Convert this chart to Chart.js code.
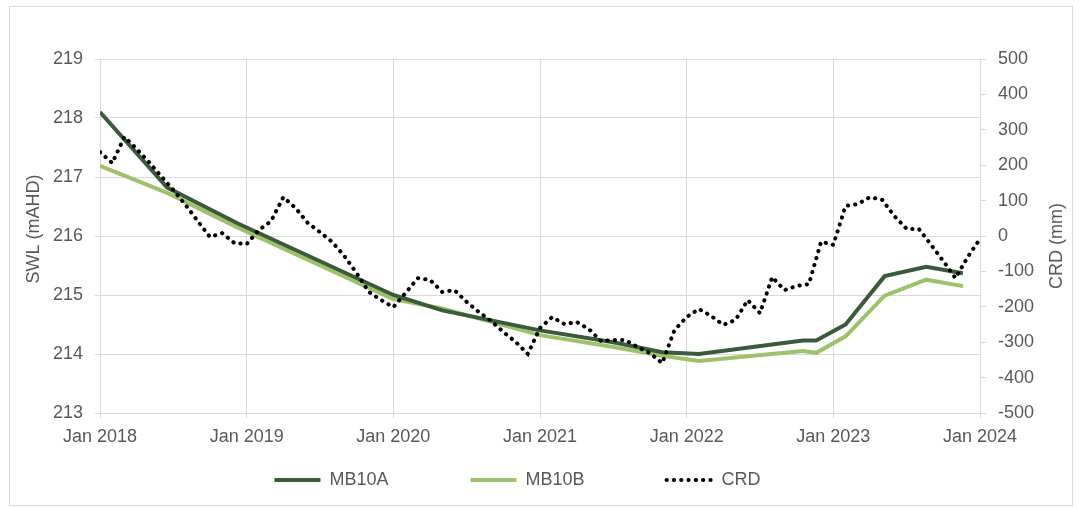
<!DOCTYPE html>
<html>
<head>
<meta charset="utf-8">
<title>MB10A / MB10B SWL and CRD</title>
<script src="https://cdn.jsdelivr.net/npm/chart.js@4.4.0/dist/chart.umd.min.js"></script>
<style>
    body { margin: 0; background: #ffffff; }
    #wrap { position: relative; width: 1080px; height: 508px; }
    #frame { position: absolute; left: 9px; top: 6px; width: 1062px; height: 498px;
             border: 1px solid #d9d9d9; pointer-events: none; }
</style>
</head>
<body>
<div id="wrap">
    <canvas id="chartSwl"></canvas>
    <div id="frame"></div>
</div>
<script>
// x values are months counted from Jan 2018
var mb10aMonths = [0, 5.5, 11.2, 24, 28, 36, 42, 46, 49, 57.5, 58.6, 61, 64.2, 67.6, 70.6];
var mb10aSwl = [218.1, 216.82, 216.22, 215.0, 214.74, 214.4, 214.2, 214.03, 214.0, 214.23, 214.23, 214.5, 215.32, 215.48, 215.37];

var mb10bMonths = [0, 5.5, 11.2, 24, 28, 36, 42, 46, 49, 57.5, 58.6, 61, 64.2, 67.6, 70.6];
var mb10bSwl = [217.19, 216.73, 216.15, 214.93, 214.77, 214.32, 214.12, 213.97, 213.88, 214.05, 214.02, 214.3, 214.99, 215.26, 215.15];

// cumulative rainfall deviation, one value per month, Jan 2018 .. Jan 2024
var crdValues = [
    237, 206, 280, 246, 209, 169, 130, 88, 42, -3, 8, -20,
    -23, 17, 42, 110, 79, 37, 11, -17, -57, -105, -158, -181,
    -201, -161, -119, -124, -158, -153, -186, -215, -240, -271, -299, -333,
    -260, -229, -249, -243, -263, -297, -294, -294, -314, -331, -359, -266,
    -229, -206, -226, -251, -237, -181, -218, -116, -153, -141, -136, -16,
    -25, 85, 90, 110, 102, 56, 20, 20, -25, -71, -119, -59,
    -8
];

var xTickLabels = ["Jan 2018", "Jan 2019", "Jan 2020", "Jan 2021", "Jan 2022", "Jan 2023", "Jan 2024"];
var seriesNames = ["MB10A", "MB10B", "CRD"];
var leftTitle = "SWL (mAHD)";
var rightTitle = "CRD (mm)";

var textColor = "#595959";
var gridColor = "#d9d9d9";
var fontFamily = '"Liberation Sans", Arial, sans-serif';

Chart.defaults.font.family = fontFamily;
Chart.defaults.font.size = 18;
Chart.defaults.color = textColor;

function toPoints(xs, ys) {
    var pts = [];
    for (var i = 0; i < xs.length; i++) {
        pts.push({ x: xs[i], y: ys[i] });
    }
    return pts;
}

// trailing spaces keep the legend items evenly spread like the original
var legendPad = ["\u2003\u2003\u2003\u2003", "\u2003\u2003\u2003\u2003", "\u2003\u2003\u2002"];

// axis titles drawn by hand so the right one reads bottom to top
var axisTitles = {
    id: "axisTitles",
    afterDraw: function (chart) {
        var ctx = chart.ctx;
        ctx.save();
        ctx.font = "18px " + fontFamily;
        ctx.fillStyle = textColor;
        ctx.textAlign = "center";
        ctx.textBaseline = "middle";

        ctx.save();
        ctx.translate(34, 229);
        ctx.rotate(-Math.PI / 2);
        ctx.fillText(leftTitle, 0, 0);
        ctx.restore();

        ctx.save();
        ctx.translate(1057, 246);
        ctx.rotate(-Math.PI / 2);
        ctx.fillText(rightTitle, 0, 0);
        ctx.restore();

        ctx.restore();
    }
};

var ctx = document.getElementById("chartSwl").getContext("2d");

var chart = new Chart(ctx, {
    type: "line",
    data: {
        datasets: [
            {
                label: seriesNames[0],
                data: toPoints(mb10aMonths, mb10aSwl),
                yAxisID: "y",
                borderColor: "#3a5a3b",
                backgroundColor: "#3a5a3b",
                borderWidth: 4,
                pointRadius: 0,
                tension: 0,
                order: 1
            },
            {
                label: seriesNames[1],
                data: toPoints(mb10bMonths, mb10bSwl),
                yAxisID: "y",
                borderColor: "#9dc26a",
                backgroundColor: "#9dc26a",
                borderWidth: 4,
                pointRadius: 0,
                tension: 0,
                order: 2
            },
            {
                label: seriesNames[2],
                data: crdValues.map(function (v, i) { return { x: i, y: v }; }),
                yAxisID: "y2",
                borderColor: "#000000",
                backgroundColor: "#000000",
                borderWidth: 4,
                borderDash: [0.3, 7],
                borderCapStyle: "round",
                pointRadius: 0,
                tension: 0,
                order: 0
            }
        ]
    },
    options: {
        responsive: true,
        maintainAspectRatio: false,
        animation: false,
        layout: { padding: { top: 59, left: 0, right: 0, bottom: 9 } },
        plugins: {
            tooltip: { enabled: false },
            legend: {
                position: "bottom",
                labels: {
                    usePointStyle: true,
                    pointStyle: "line",
                    pointStyleWidth: 46,
                    boxHeight: 18,
                    padding: 10,
                    color: textColor,
                    font: { size: 18 },
                    sort: function (a, b) { return a.datasetIndex - b.datasetIndex; },
                    generateLabels: function (chart) {
                        var items = Chart.defaults.plugins.legend.labels.generateLabels(chart);
                        items.forEach(function (item) {
                            var ds = chart.data.datasets[item.datasetIndex];
                            item.text = item.text + legendPad[item.datasetIndex];
                            item.lineWidth = ds.borderWidth;
                            item.strokeStyle = ds.borderColor;
                            item.lineDash = ds.borderDash || [];
                            item.lineCap = ds.borderCapStyle || "butt";
                        });
                        return items;
                    }
                }
            }
        },
        scales: {
            x: {
                type: "linear",
                min: 0,
                max: 72,
                afterFit: function (scale) { scale.height = 48; },
                afterBuildTicks: function (scale) {
                    scale.ticks = xTickLabels.map(function (t, i) { return { value: i * 12 }; });
                },
                ticks: {
                    autoSkip: false,
                    maxRotation: 0,
                    padding: 8,
                    color: textColor,
                    callback: function (v) { return xTickLabels[Math.round(v / 12)]; }
                },
                grid: { color: gridColor, lineWidth: 1, drawTicks: true, tickLength: 5 },
                border: { color: gridColor }
            },
            y: {
                position: "left",
                min: 213,
                max: 219,
                afterFit: function (scale) { scale.width = 100; },
                ticks: { stepSize: 1, padding: 12, color: textColor },
                grid: { color: gridColor, lineWidth: 1, drawTicks: true, tickLength: 5 },
                border: { color: gridColor }
            },
            y2: {
                position: "right",
                min: -500,
                max: 500,
                afterFit: function (scale) { scale.width = 100; },
                ticks: { stepSize: 100, padding: 12, color: textColor },
                grid: { drawOnChartArea: false, color: gridColor, drawTicks: true, tickLength: 6 },
                border: { color: gridColor }
            }
        }
    },
    plugins: [axisTitles]
});
</script>
</body>
</html>
